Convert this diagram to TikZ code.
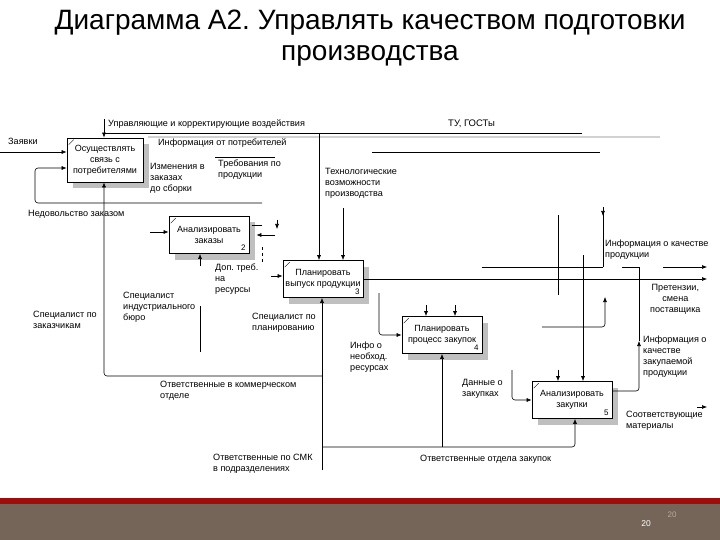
\documentclass[tikz,border=0pt]{standalone}
\usepackage{fontspec}
\setmainfont{Liberation Sans}
\usepackage{tikz}
\usetikzlibrary{calc,arrows.meta,shadows}
\definecolor{footbrown}{HTML}{756458}
\definecolor{footred}{HTML}{A00C0C}
\def\funcbox{\node[func]}
\def\lbl{\node[lbl]}
\def\flow{\draw[flow]}
\def\wire{\draw[wire]}
\frenchspacing

\begin{document}
\begin{tikzpicture}[x=1pt,y=-1pt,
  func/.style={draw,fill=white,line width=0.7pt,minimum width=80pt,minimum height=37pt,
    align=center,inner sep=1pt,font=\fontsize{9}{11}\selectfont,
    drop shadow={shadow xshift=6pt,shadow yshift=-6pt,fill=black!25,opacity=1}},
  lbl/.style={anchor=west,align=left,inner sep=0pt,font=\fontsize{9.1}{11}\selectfont},
  num/.style={inner sep=0pt,font=\fontsize{8}{9}\selectfont},
  flow/.style={line width=0.6pt,-{Latex[length=5pt,width=4pt]}},
  wire/.style={line width=0.6pt},
  rc/.style={rounded corners=3pt}]
\useasboundingbox (0,0) rectangle (720,540);

% title and slide footer
\node[font=\fontsize{28}{31}\selectfont,align=center] (title) at (370,38)
  {Диаграмма А2. Управлять качеством подготовки\\производства};
\fill[footred] (0,498) rectangle (720,504);
\fill[footbrown] (0,504) rectangle (720,540);
\node[num,white,font=\fontsize{8.5}{9}\selectfont] (pagenum) at (646,524) {20};
\node[num,footbrown!55!white] (pagenum_bg) at (672,515) {20};

% the five function blocks
\funcbox (b1) [minimum width=76pt,minimum height=44pt] at (105,160) {Осуществлять\\связь с\\потребителями};
\funcbox (b2) at (209,235) {Анализировать\\заказы};
\funcbox (b3) at (323,279) {Планировать\\выпуск продукции};
\funcbox (b4) at (442,335) {Планировать\\процесс закупок};
\funcbox (b5) at (572,400) {Анализировать\\закупки};
\node[num] at ($(b2.south east)+(-6,-6)$) {2};
\node[num] at ($(b3.south east)+(-6,-6)$) {3};
\node[num] at ($(b4.south east)+(-6,-6)$) {4};
\node[num] at ($(b5.south east)+(-6,-6)$) {5};
\foreach \b in {b1,b2,b3,b4,b5}
  \draw[line width=0.4pt] ($(\b.north west)+(2,7)$) -- ($(\b.north west)+(7,2)$);

% controls from the top
\coordinate (ctl_a) at (104,119);
\coordinate (ctl_b) at (104,133);
\coordinate (gost_end) at (582,133);
\flow (ctl_a) -- (ctl_a |- b1.north);
\wire (ctl_b) -- (gost_end);
\draw[gray!35,line width=1.6pt] (148,137) -- (660,137);
\coordinate (tech_top) at (319,133);
\flow (tech_top) -- (tech_top |- b3.north);
\coordinate (line2_a) at (372,152);
\coordinate (line2_b) at (600,152);
\wire (line2_a) -- (line2_b);
\wire (215,157) -- (275,157);
\lbl at (108,124) {Управляющие и корректирующие воздействия};
\lbl[font=\fontsize{9.5}{10}\selectfont] at (448,124) {ТУ, ГОСТы};

% block 1
\coordinate (zayavki) at (0,152);
\flow (zayavki) -- (zayavki -| b1.west);
\lbl at (8,141) {Заявки};
\coordinate (fb_start) at (262,203);
\coordinate (fb_corner) at (35,203);
\coordinate (fb_in) at (35,168);
\flow[rc] (fb_start) -- (fb_corner) -- (fb_in) -- (fb_in -| b1.west);
\lbl at (28,214) {Недовольство заказом};
\lbl at (158,143) {Информация от потребителей};
\lbl at (150,178) {Изменения в\\заказах\\до сборки};
\lbl at (218,170) {Требования по\\продукции};

% mechanisms from the bottom
\coordinate (mech_bottom) at (322,470);
\coordinate (mech_join) at (322,376);
\coordinate (mech_left) at (104,376);
\flow[rc] (mech_join) -- (mech_left) -- (mech_left |- b1.south);
\flow (mech_bottom) -- (mech_bottom |- b3.south);
\coordinate (zak_join) at (322,447);
\coordinate (zak_right) at (575,447);
\coordinate (zak_mid) at (442,447);
\flow[rc] (zak_join) -- (zak_right) -- (zak_right |- b5.south);
\flow (zak_mid) -- (zak_mid |- b4.south);
\coordinate (bureau_a) at (200,306);
\coordinate (bureau_b) at (200,352);
\wire (bureau_a) -- (bureau_b);
\lbl at (33,320) {Специалист по\\заказчикам};
\lbl at (123,307) {Специалист\\индустриального\\бюро};
\lbl at (252,323) {Специалист по\\планированию};
\lbl at (160,391) {Ответственные в коммерческом\\отделе};
\lbl at (213,464) {Ответственные по СМК\\в подразделениях};
\lbl at (420,459) {Ответственные отдела закупок};

% block 2
\coordinate (b2_in) at (150,232);
\flow (b2_in) -- (b2_in -| b2.west);
\coordinate (b2_back) at (275,235);
\flow (b2_back) -- ($(b2.east |- b2_back)+(7,0)$);
\coordinate (b2_tick) at (277,220);
\flow (b2_tick) -- ++(0,9);
\wire (252,225) -- (262,225);
\draw[wire,dashed] (262,247) -- (262,262);
\coordinate (b2_up) at (200,266);
\flow (b2_up) -- (b2_up |- b2.south);
\lbl at (215,279) {Доп. треб.\\на\\ресурсы};

% block 3
\coordinate (b3_in) at (271,276);
\flow (b3_in) -- (b3_in -| b3.west);
\coordinate (b3_ctl2) at (343,208);
\flow (b3_ctl2) -- (b3_ctl2 |- b3.north);
\coordinate (b3_out_end) at (707,279);
\flow (b3.east) -- (b3_out_end);
\coordinate (b4_src) at (379,293);
\flow[rc] (b4_src) -- (b4_src |- b4.west) -- (b4.west);
\lbl at (325,183) {Технологические\\возможности\\производства};
\lbl at (350,357) {Инфо о\\необход.\\ресурсах};

% block 4
\coordinate (b4_c1) at (426,305);
\coordinate (b4_c2) at (455,305);
\flow (b4_c1) -- (b4_c1 |- b4.north);
\flow (b4_c2) -- (b4_c2 |- b4.north);

% block 5 and the outputs on the right
\coordinate (b5_in) at (512,370);
\flow[rc] (b5_in) -- (b5_in |- b5.west) -- (b5.west);
\coordinate (b5_c1) at (558,370);
\coordinate (b5_c2) at (583,255);
\flow (b5_c1) -- (b5_c1 |- b5.north);
\flow (b5_c2) -- (b5_c2 |- b5.north);
\wire (558,215) -- (558,295);
\coordinate (qual_turn) at (639,391);
\coordinate (qual_tip) at (639,341);
\coordinate (qual_top) at (639,268);
\flow[rc] (b5.east |- qual_turn) -- (qual_turn) -- (qual_tip);
\wire (qual_tip) -- (qual_top);
\coordinate (mat_a) at (697,407);
\flow (mat_a) -- ++(10,0);
\coordinate (info_top) at (603,207);
\coordinate (info_join) at (603,267);
\flow (info_top) -- ++(0,9);
\wire (info_top) -- (info_join);
\wire (482,267) -- (info_join);
\wire (622,267) -- (640,267);
\flow (663,267) -- (707,267);
\coordinate (pret_a) at (542,327);
\coordinate (pret_tip) at (605,297);
\flow[rc] (pret_a) -- (pret_a -| pret_tip) -- (pret_tip);
\lbl at (462,389) {Данные о\\закупках};
\lbl at (605,250) {Информация о качестве\\продукции};
\lbl[align=center] at (650,299) {Претензии,\\смена\\поставщика};
\lbl at (643,357) {Информация о\\качестве\\закупаемой\\продукции};
\lbl at (626,421) {Соответствующие\\материалы};
\end{tikzpicture}
\end{document}
